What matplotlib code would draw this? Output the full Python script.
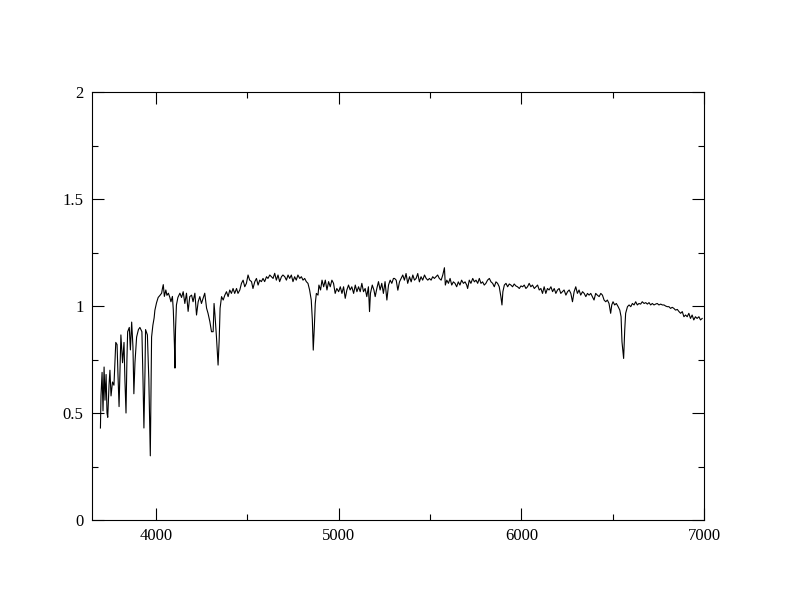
import numpy as np
import matplotlib
matplotlib.use("Agg")
import matplotlib.pyplot as plt
from matplotlib.ticker import MultipleLocator, FormatStrFormatter

# spectrum, split in wavelength chunks
wl_blue = [3696, 3699, 3705, 3710, 3716, 3721, 3727, 3732, 3736, 3743, 3748, 3754, 3762, 3770,
           3780, 3787, 3792, 3798, 3803, 3808, 3817, 3825, 3830, 3836, 3841, 3845, 3854, 3860,
           3867, 3874, 3879, 3885, 3894, 3904, 3912, 3923, 3929, 3934, 3940, 3943, 3953, 3961,
           3969, 3972, 3976, 3983, 3990, 3994, 4003, 4012, 4022, 4031, 4035, 4040, 4046, 4054,
           4060, 4068, 4076, 4082, 4090, 4095, 4101, 4104, 4107, 4112, 4120]
fx_blue = [0.43, 0.58, 0.69, 0.51, 0.715, 0.56, 0.68, 0.50, 0.48, 0.63, 0.70, 0.58, 0.645, 0.63,
           0.83, 0.82, 0.68, 0.53, 0.70, 0.865, 0.735, 0.83, 0.655, 0.50, 0.75, 0.88, 0.90, 0.795,
           0.925, 0.81, 0.59, 0.735, 0.855, 0.89, 0.90, 0.88, 0.655, 0.43, 0.70, 0.89, 0.865, 0.655,
           0.30, 0.56, 0.855, 0.91, 0.945, 0.98, 1.015, 1.04, 1.05, 1.06, 1.08, 1.10, 1.045, 1.075,
           1.05, 1.06, 1.04, 1.02, 1.045, 0.98, 0.82, 0.71, 0.89, 1.005, 1.04]

wl_hg = [4131, 4140, 4149, 4158, 4167, 4176, 4185, 4195, 4203, 4213, 4222, 4231, 4240, 4249,
         4258, 4267, 4277, 4285, 4295, 4304, 4313, 4318, 4323, 4331, 4340, 4346, 4351, 4359,
         4368, 4377, 4386, 4395, 4404, 4413, 4422, 4431, 4441, 4449, 4459, 4468, 4477, 4486,
         4495, 4504, 4513, 4523, 4531, 4541, 4550, 4559, 4568, 4577, 4586, 4595, 4605, 4613,
         4623, 4632, 4641, 4650, 4659, 4668, 4677, 4687, 4695]
fx_hg = [1.06, 1.04, 1.067, 1.012, 1.06, 0.975, 1.044, 1.051, 1.02, 1.06, 0.958, 1.02, 1.044, 1.012,
         1.036, 1.06, 0.99, 0.966, 0.927, 0.88, 0.88, 1.012, 0.958, 0.857, 0.724, 0.841, 0.99, 1.044,
         1.028, 1.051, 1.067, 1.044, 1.075, 1.059, 1.082, 1.059, 1.082, 1.059, 1.075, 1.106, 1.121, 1.09,
         1.106, 1.145, 1.121, 1.114, 1.082, 1.114, 1.129, 1.098, 1.121, 1.114, 1.129, 1.114, 1.137, 1.129,
         1.145, 1.137, 1.129, 1.153, 1.121, 1.145, 1.114, 1.137, 1.145]

wl_hb = [4705, 4714, 4723, 4732, 4741, 4750, 4759, 4768, 4777, 4787, 4796, 4805, 4814, 4823,
         4832, 4841, 4850, 4856, 4861, 4867, 4872, 4878, 4887, 4892, 4901, 4909, 4918, 4927,
         4936, 4945, 4954, 4963, 4972, 4981, 4990, 5000, 5009, 5018, 5027, 5036, 5045, 5054,
         5063, 5072, 5082, 5091, 5100, 5109, 5118, 5127, 5136, 5145, 5154, 5163, 5169, 5174,
         5184, 5193, 5200, 5209, 5218, 5227, 5236, 5245, 5254, 5264, 5273, 5282, 5291, 5300]
fx_hb = [1.137, 1.121, 1.145, 1.129, 1.145, 1.114, 1.137, 1.121, 1.145, 1.129, 1.137, 1.121, 1.129, 1.114,
         1.106, 1.075, 1.028, 0.935, 0.794, 0.904, 1.012, 1.059, 1.051, 1.098, 1.075, 1.121, 1.09, 1.121,
         1.075, 1.114, 1.09, 1.121, 1.106, 1.059, 1.082, 1.067, 1.09, 1.059, 1.09, 1.036, 1.075, 1.098,
         1.075, 1.09, 1.059, 1.098, 1.067, 1.09, 1.067, 1.106, 1.067, 1.082, 1.044, 1.09, 0.974, 1.059,
         1.098, 1.075, 1.044, 1.082, 1.114, 1.075, 1.106, 1.059, 1.114, 1.028, 1.098, 1.121, 1.106, 1.129]

wl_mid = [5306, 5315, 5324, 5333, 5342, 5351, 5360, 5369, 5378, 5388, 5397, 5406, 5415, 5424,
          5433, 5442, 5451, 5460, 5470, 5479, 5488, 5497, 5506, 5515, 5524, 5533, 5542, 5551,
          5561, 5570, 5579, 5584, 5592, 5601, 5610, 5619, 5628, 5637, 5646, 5655, 5664, 5673,
          5683, 5692, 5701, 5706, 5715, 5724, 5734, 5743, 5752, 5761, 5770, 5779, 5788, 5797,
          5806, 5815, 5825, 5834, 5843, 5852, 5861, 5870]
fx_mid = [1.129, 1.121, 1.074, 1.113, 1.129, 1.145, 1.121, 1.152, 1.106, 1.137, 1.113, 1.145, 1.121, 1.129,
          1.152, 1.113, 1.137, 1.121, 1.145, 1.129, 1.121, 1.129, 1.121, 1.137, 1.129, 1.137, 1.145, 1.129,
          1.121, 1.145, 1.179, 1.098, 1.121, 1.106, 1.129, 1.098, 1.113, 1.106, 1.090, 1.113, 1.098, 1.121,
          1.106, 1.113, 1.098, 1.082, 1.121, 1.106, 1.129, 1.113, 1.121, 1.106, 1.129, 1.106, 1.113, 1.098,
          1.106, 1.121, 1.129, 1.113, 1.106, 1.090, 1.113, 1.106]

wl_red = [5879, 5888, 5894, 5899, 5907, 5916, 5925, 5934, 5943, 5952, 5961, 5970, 5979, 5989,
          5998, 6007, 6016, 6025, 6034, 6043, 6052, 6061, 6071, 6080, 6089, 6098, 6107, 6116,
          6125, 6134, 6143, 6152, 6162, 6171, 6180, 6189, 6198, 6207, 6216, 6225, 6234, 6244,
          6253, 6262, 6271, 6280, 6289, 6298, 6307, 6316, 6325, 6335, 6344, 6353, 6362, 6371,
          6380, 6389, 6398, 6407, 6416, 6426, 6435, 6444]
fx_red = [1.090, 1.044, 1.005, 1.067, 1.098, 1.106, 1.090, 1.103, 1.098, 1.090, 1.103, 1.094, 1.090, 1.082,
          1.094, 1.090, 1.098, 1.082, 1.090, 1.106, 1.090, 1.098, 1.082, 1.090, 1.098, 1.075, 1.082, 1.059,
          1.090, 1.059, 1.082, 1.075, 1.090, 1.067, 1.082, 1.059, 1.075, 1.082, 1.059, 1.067, 1.075, 1.051,
          1.067, 1.075, 1.059, 1.020, 1.067, 1.090, 1.059, 1.075, 1.051, 1.067, 1.059, 1.044, 1.059, 1.051,
          1.059, 1.044, 1.028, 1.059, 1.051, 1.044, 1.059, 1.051]

wl_ha = [6453, 6462, 6471, 6480, 6489, 6495, 6502, 6511, 6520, 6530, 6539, 6546, 6551, 6560,
         6566, 6571, 6581, 6590, 6599, 6608, 6617, 6626, 6635, 6644, 6653, 6662, 6672, 6681,
         6690, 6699, 6708, 6717, 6726, 6735, 6744, 6753, 6763, 6772, 6781, 6790, 6799, 6808,
         6817, 6826, 6835, 6844, 6854, 6863, 6872, 6881, 6890, 6899, 6908, 6917, 6926, 6935,
         6944, 6953, 6962, 6972, 6981, 6990]
fx_ha = [1.028, 1.020, 1.028, 1.012, 0.966, 1.005, 1.020, 1.005, 1.012, 0.997, 0.981, 0.950, 0.833, 0.755,
         0.888, 0.966, 0.997, 1.005, 0.997, 1.012, 1.005, 1.020, 1.005, 1.012, 1.009, 1.020, 1.012, 1.016,
         1.009, 1.016, 1.005, 1.012, 1.005, 1.009, 1.012, 1.005, 1.009, 1.005, 1.005, 1.000, 0.997, 0.997,
         0.989, 0.994, 0.989, 0.981, 0.984, 0.974, 0.966, 0.974, 0.950, 0.958, 0.950, 0.966, 0.942, 0.958,
         0.935, 0.950, 0.942, 0.950, 0.935, 0.942]

wl = np.concatenate([wl_blue, wl_hg, wl_hb, wl_mid, wl_red, wl_ha])
flux = np.concatenate([fx_blue, fx_hg, fx_hb, fx_mid, fx_red, fx_ha])

plt.rcParams['font.family'] = ['Liberation Serif', 'DejaVu Serif']
plt.rcParams['font.size'] = 12

fig = plt.figure(figsize=(7.92, 6.12), dpi=100)
ax = fig.add_axes([0.1162, 0.1503, 0.7727, 0.6993])
ax.plot(wl, flux, color="black", lw=0.8)

ax.set_xlim(3650, 7000)
ax.set_ylim(0, 2)
ax.xaxis.set_major_locator(MultipleLocator(1000))
ax.xaxis.set_minor_locator(MultipleLocator(500))
ax.yaxis.set_major_locator(MultipleLocator(0.5))
ax.yaxis.set_minor_locator(MultipleLocator(0.25))
ax.yaxis.set_major_formatter(FormatStrFormatter('%g'))
ax.tick_params(which='both', direction='in', top=True, right=True, width=0.8, colors='black')
ax.tick_params(which='major', length=8.7, pad=6)
ax.tick_params(which='minor', length=4.5)
for s in ax.spines.values():
    s.set_linewidth(0.8)

plt.savefig("out.png", dpi=100)
